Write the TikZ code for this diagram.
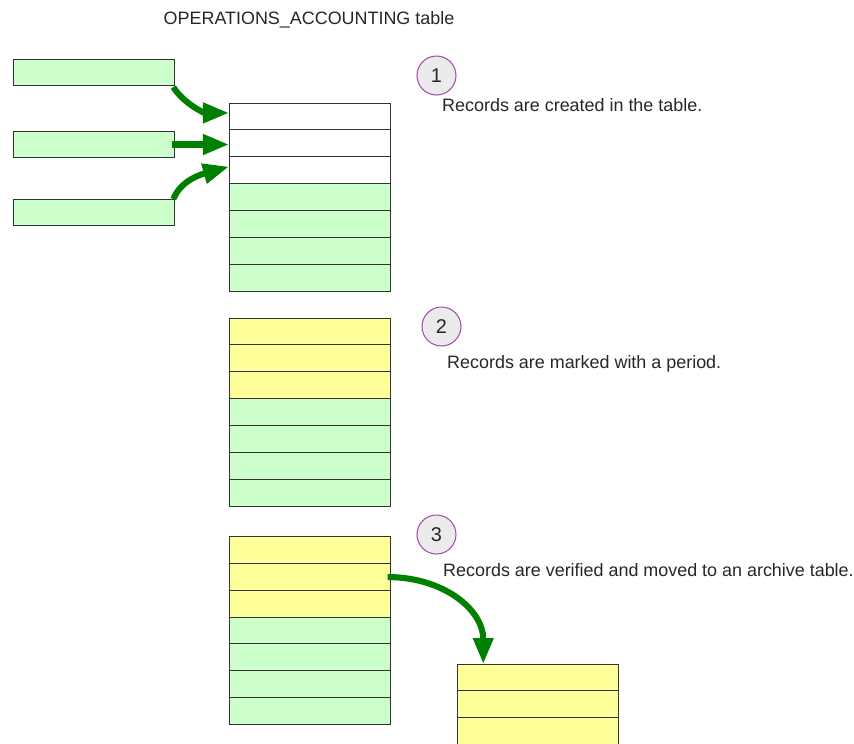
\documentclass[tikz,border=0pt]{standalone}
\usepackage{fontspec}
\setmainfont{Liberation Sans}
\usetikzlibrary{arrows.meta}
\definecolor{rowgreen}{HTML}{CCFFCC}
\definecolor{rowyellow}{HTML}{FFFF99}
\definecolor{flowgreen}{HTML}{008000}
\definecolor{numedge}{HTML}{A64CB0}
\definecolor{numfill}{HTML}{EBEBEB}
\tikzset{
    row/.style={draw=black!80, line width=0.8pt, minimum width=4.83cm,
        minimum height=0.806cm, inner sep=0pt, outer sep=0pt},
    numcircle/.style={circle, draw=numedge, fill=numfill, line width=0.9pt,
        minimum size=1.17cm, inner sep=0pt, text=black!85,
        font=\fontsize{17}{17}\selectfont},
    note/.style={anchor=base west, inner sep=0pt, text=black!85,
        font=\fontsize{15.3}{18}\selectfont},
    flow/.style={draw=flowgreen, line width=5.2pt,
        -{Triangle[length=0.78cm,width=0.58cm]}}
}
\begin{document}
\begin{tikzpicture}[x=0.03cm,y=-0.03cm]
    \clip (0,0) rectangle (854,743);

    \node[note, anchor=base] (title) at (309,24) {OPERATIONS\_ACCOUNTING table};

    %Registros nuevos
    \node[row, fill=rowgreen] (b1) at (94,72.5) {};
    \node[row, fill=rowgreen] (b2) at (94,144.5) {};
    \node[row, fill=rowgreen] (b3) at (94,212.5) {};

    %Tabla en los tres pasos
    \foreach \i/\c in {1/white,2/white,3/white,4/rowgreen,5/rowgreen,6/rowgreen,7/rowgreen}
        \node[row, fill=\c] (a\i) at (309.5,{103+26.86*(\i-0.5)}) {};
    \foreach \i/\c in {1/rowyellow,2/rowyellow,3/rowyellow,4/rowgreen,5/rowgreen,6/rowgreen,7/rowgreen}
        \node[row, fill=\c] (m\i) at (309.5,{318+26.86*(\i-0.5)}) {};
    \foreach \i/\c in {1/rowyellow,2/rowyellow,3/rowyellow,4/rowgreen,5/rowgreen,6/rowgreen,7/rowgreen}
        \node[row, fill=\c] (v\i) at (309.5,{537+26.71*(\i-0.5)}) {};

    %Tabla de archivo
    \foreach \i in {1,2,3}
        \node[row, fill=rowyellow] (h\i) at (538,{664+26.86*(\i-0.5)}) {};

    %Pasos
    \node[numcircle] (n1) at (436.5,75.5) {1};
    \node[numcircle] (n2) at (441.5,326.5) {2};
    \node[numcircle] (n3) at (436.5,534.5) {3};
    \node[note] (t1) at (442,111) {Records are created in the table.};
    \node[note] (t2) at (447,368) {Records are marked with a period.};
    \node[note] (t3) at (443,576) {Records are verified and moved to an archive table.};

    %Flechas
    \draw[flow] ([xshift=-1pt,yshift=-1pt]b1.south east) .. controls +(10,16) and +(-25,0) .. ([yshift=3pt]a1.west);
    \draw[flow] ([xshift=-2pt]b2.east) -- (b2.east -| a2.west);
    \draw[flow] ([xshift=-1pt]b3.north east) .. controls +(8,-20) and +(-25,7) .. ([yshift=3pt]a3.west);
    \draw[flow] ([xshift=-2pt]v2.east) .. controls +(55,0) and +(0,-55) .. ([xshift=22pt]h1.north west);

\end{tikzpicture}
\end{document}
